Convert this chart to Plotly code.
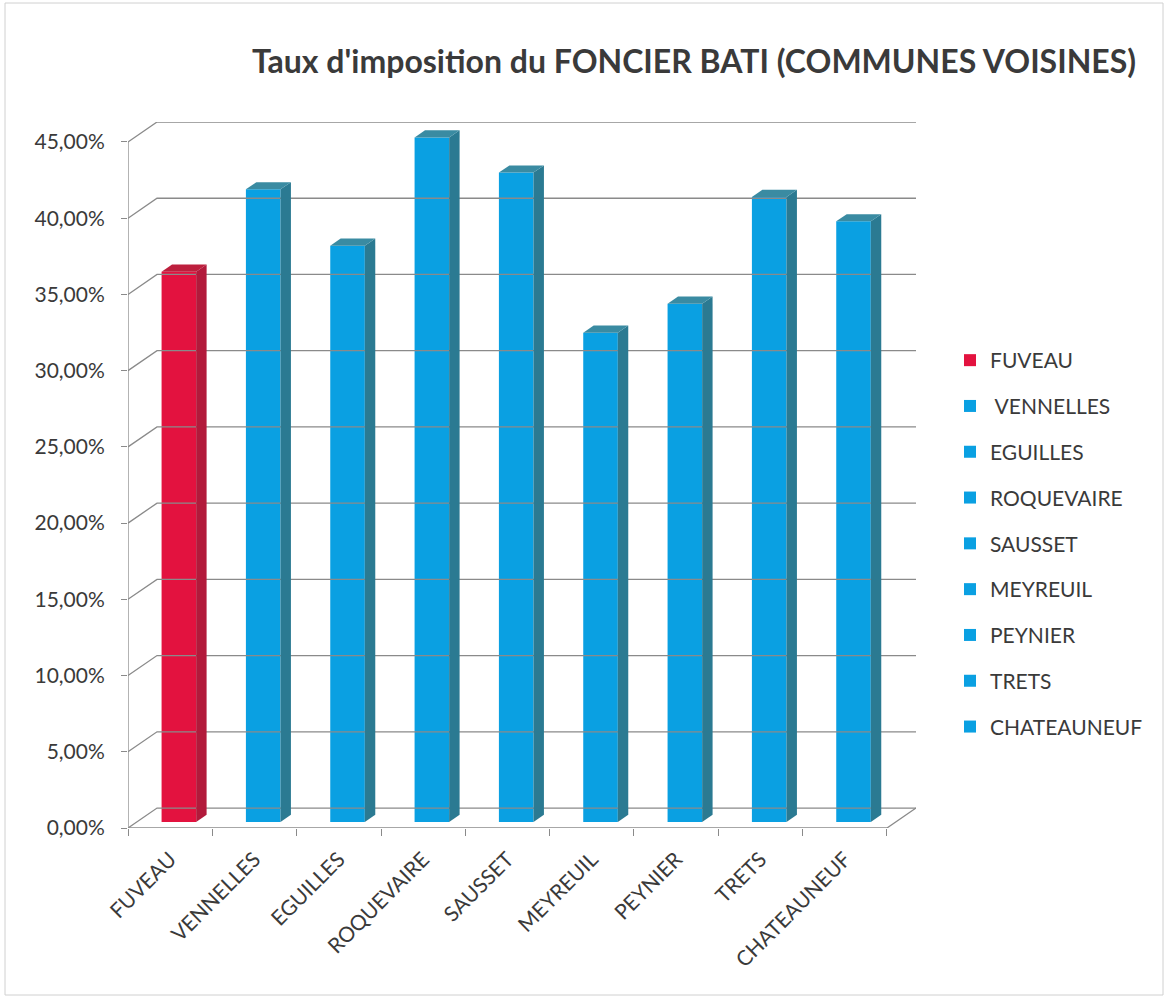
import plotly.graph_objects as go

categories = ["FUVEAU", "VENNELLES", "EGUILLES", "ROQUEVAIRE", "SAUSSET",
              "MEYREUIL", "PEYNIER", "TRETS", "CHATEAUNEUF"]
legend_names = ["FUVEAU", " VENNELLES", "EGUILLES", "ROQUEVAIRE", "SAUSSET",
                "MEYREUIL", "PEYNIER", "TRETS", "CHATEAUNEUF"]
values = [36.1, 41.5, 37.8, 44.9, 42.6, 32.1, 34.0, 41.0, 39.4]
y_ticks = [0, 5, 10, 15, 20, 25, 30, 35, 40, 45]
y_ticktext = [f"{v:.2f}%".replace(".", ",") for v in y_ticks]

FRONT = {"FUVEAU": "#e3123f"}
SIDE = {"FUVEAU": "#b21a3b"}
TOP = {"FUVEAU": "#bd1f3d"}
BLUE_FRONT, BLUE_SIDE, BLUE_TOP = "#0aa0e2", "#2b7a92", "#3a8ba2"

# oblique depth projection (in data units)
DX, DY = 0.344, 1.31
D0, DD = 0.3, 0.36   # bar starting depth and bar depth
BW = 0.41
N = len(categories)
YMAX = 45

fig = go.Figure()
GRID = "#8a8a8a"

# back wall gridlines (with slanted left part)
for v in y_ticks:
    fig.add_trace(go.Scatter(x=[0, DX, N + DX], y=[v, v + DY, v + DY], mode="lines",
                             line=dict(color=GRID, width=1.3), hoverinfo="skip",
                             showlegend=False))
# floor: front edge and right edge
fig.add_trace(go.Scatter(x=[0, N, N + DX], y=[0, 0, DY], mode="lines",
                         line=dict(color=GRID, width=1.3), hoverinfo="skip", showlegend=False))
# front vertical axis
fig.add_trace(go.Scatter(x=[0, 0], y=[0, YMAX], mode="lines",
                         line=dict(color=GRID, width=1.3), hoverinfo="skip", showlegend=False))

for i, (cat, name, v) in enumerate(zip(categories, legend_names, values)):
    fc = FRONT.get(cat, BLUE_FRONT)
    sc = SIDE.get(cat, BLUE_SIDE)
    tc = TOP.get(cat, BLUE_TOP)
    cx = i + 0.5 + D0 * DX
    base = D0 * DY
    xl, xr = cx - BW / 2, cx + BW / 2
    top = base + v
    ox, oy = DD * DX, DD * DY
    # side face
    fig.add_trace(go.Scatter(x=[xr, xr, xr + ox, xr + ox, xr], y=[base, top, top + oy, base + oy, base],
                             mode="lines", fill="toself", fillcolor=sc, line=dict(width=0, color=sc),
                             hoverinfo="skip", showlegend=False))
    # top face
    fig.add_trace(go.Scatter(x=[xl, xr, xr + ox, xl + ox, xl], y=[top, top, top + oy, top + oy, top],
                             mode="lines", fill="toself", fillcolor=tc, line=dict(width=0, color=tc),
                             hoverinfo="skip", showlegend=False))
    # front face
    fig.add_trace(go.Bar(x=[cx], y=[v], base=[base], width=BW, name=name,
                         marker=dict(color=fc, line=dict(width=0)), legendgroup=cat))

FONT = "Lato, 'Open Sans', sans-serif"
TXT = "#3a3a3a"
fig.update_layout(
    width=1166, height=999,
    paper_bgcolor="white", plot_bgcolor="white",
    margin=dict(l=128, r=250, t=122, b=171),
    font=dict(family=FONT, color=TXT, size=21),
    title=dict(text="<b>Taux d'imposition du FONCIER BATI (COMMUNES VOISINES)</b>",
               x=694 / 1166, xanchor="center", xref="container",
               y=1 - 62 / 999, yanchor="middle", yref="container",
               font=dict(size=32, color=TXT, family=FONT)),
    barmode="overlay",
    showlegend=True,
    legend=dict(x=950 / 1166, xref="container", xanchor="left",
                y=1 - 340 / 999, yref="container", yanchor="top",
                font=dict(size=21, color=TXT), tracegroupgap=15.5,
                bgcolor="rgba(0,0,0,0)"),
    xaxis=dict(range=[0, N + DX], tickvals=[i + 0.5 for i in range(N)], ticktext=categories,
               tickangle=-45, ticks="", showgrid=False, zeroline=False, showline=False,
               ticklabelstandoff=14,
               tickfont=dict(size=21, color=TXT),
               minor=dict(ticks="outside", tick0=0, dtick=1, ticklen=7, tickcolor=GRID,
                          showgrid=False)),
    yaxis=dict(range=[0, YMAX + DY], tickvals=y_ticks, ticktext=y_ticktext, ticks="outside",
               ticklen=6, tickcolor=GRID, showgrid=False, zeroline=False, showline=False,
               ticklabelstandoff=12,
               tickfont=dict(size=21, color=TXT)),
)
fig.add_shape(type="rect", xref="paper", yref="paper",
              x0=(5 - 128) / 788, x1=(1163 - 128) / 788,
              y0=(828 - 995) / 706, y1=(828 - 3) / 706,
              line=dict(color="#d0d0d0", width=1))

fig.write_html("out.html")
